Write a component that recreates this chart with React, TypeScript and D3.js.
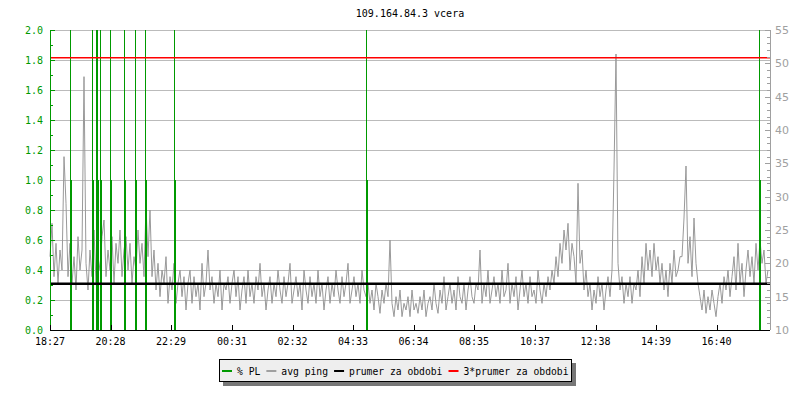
import React from 'react';
import * as d3 from 'd3';

const TITLE = '109.164.84.3 vcera';
const PING_STEP_MIN = 4;
// avg ping (ms, right axis) every 4 minutes starting 18:27
const pingValues = [
  21, 26, 18, 23, 17, 22, 19, 36, 29, 18,
  23, 17, 21, 16, 24, 19, 22, 48, 20, 16,
  22, 18, 25, 17, 21, 19, 24, 26.5, 18, 22,
  19, 24, 17, 23, 20, 25, 18, 22, 24, 19,
  23, 17, 21, 19, 25, 20, 23, 18, 28.7, 21,
  28, 18, 22, 16, 20, 15, 19, 17, 21, 14,
  18, 16, 20, 14, 17, 19, 15, 18, 13, 17,
  19, 14, 18, 15, 17, 13, 20, 15, 17, 22,
  16, 18, 14, 17, 15, 19, 13, 17, 16, 18,
  14, 17, 19, 15, 18, 13, 16, 18, 14, 19,
  15, 17, 14, 18, 16, 20, 15, 17, 13, 16,
  18, 14, 17, 15, 19, 16, 14, 18, 15, 17,
  20, 14, 16, 18, 15, 17, 13, 19, 16, 14,
  18, 15, 17, 14, 19, 15, 17, 13, 16, 18,
  14, 17, 15, 19, 16, 14, 18, 15, 17, 20,
  14, 16, 18, 15, 17, 14, 19, 16, 15, 17,
  14, 16, 13, 17, 15, 12.5, 16, 14, 17, 15,
  23.5, 14, 12, 15, 13, 16, 12, 14, 13, 15,
  12, 16, 13, 14, 12.5, 15, 13, 16, 12, 14,
  15, 13, 17, 14, 12.5, 16, 14, 18, 13, 15,
  17, 14, 16, 13, 18, 15, 14, 17, 13, 16,
  18, 15, 14, 17, 16, 22, 14, 17, 15, 19,
  14, 16, 18, 15, 17, 14, 19, 15, 16, 20,
  14, 17, 15, 18, 13, 16, 19, 15, 17, 14,
  18, 15, 16, 14, 19, 16, 14, 17, 15, 18,
  16, 19, 17, 21, 18, 23, 20, 25, 22, 26,
  19, 23, 21, 17, 32, 20, 22, 16, 19, 15,
  17, 13, 16, 14, 18, 15, 17, 13, 16, 18,
  15, 19, 34, 51.4, 20, 16, 18, 14, 17, 15,
  18, 14, 17, 16, 19, 15, 21, 17, 23, 19,
  22, 18, 23, 19, 21, 17, 20, 16, 19, 15,
  20, 17, 22, 18, 19, 21, 21, 26.8, 34.6, 20,
  24, 18, 26.8, 20, 17, 15, 13, 16, 12.5, 15,
  13, 16, 14, 12, 15, 17, 14, 18, 16, 19,
  15, 18, 21, 16, 23, 17, 20, 15, 19, 22,
  18, 21, 17, 23, 19, 23.5, 20, 22, 17, 19,
];
// packet loss events (minutes after 18:27, % PL on left axis)
const plTimes = [40, 42, 84, 86, 92, 94, 96, 100, 102, 120, 122, 148, 150, 170, 172, 190, 192, 248, 250, 632, 634, 1418, 1420];
const plValues = [2, 1, 2, 1, 2, 2, 1, 2, 1, 2, 1, 2, 1, 2, 1, 2, 1, 2, 1, 2, 1, 2, 1];
const avgPing = 16.95;
const tripleAvg = 3 * avgPing;

const xTickMinutes = [0, 121, 242, 364, 485, 606, 727, 848, 970, 1091, 1212, 1333];
const xTickLabels = ['18:27', '20:28', '22:29', '00:31', '02:32', '04:33', '06:34', '08:35', '10:37', '12:38', '14:39', '16:40'];
const leftTicks = [0, 0.2, 0.4, 0.6, 0.8, 1.0, 1.2, 1.4, 1.6, 1.8, 2.0];
const rightTicks = [10, 15, 20, 25, 30, 35, 40, 45, 50, 55];
const legendLabels = ['% PL', 'avg ping', 'prumer za obdobi', '3*prumer za obdobi'];
const legendColors = ['#009900', '#a0a0a0', '#000000', '#ff0000'];

const GREEN = '#009900';
const MONO = '"DejaVu Sans Mono", monospace';

export default function App() {
  const L = 50, R = 770, T = 30, B = 330;
  const x = d3.scaleLinear().domain([0, 1440]).range([L, R]);
  const yL = d3.scaleLinear().domain([0, 2]).range([B, T]);
  const yR = d3.scaleLinear().domain([10, 55]).range([B, T]);

  const line = d3.line<number>()
    .x((_, i) => x(i * PING_STEP_MIN))
    .y((d) => yR(d))
    .curve(d3.curveLinear);

  const minorLeft = d3.range(0, 2.0001, 0.1);
  const minorRight = d3.range(10, 55.001, 1);

  const legendFont = 9.7;
  const charW = 0.602 * legendFont;
  let cx = 222;
  const legendItems = legendLabels.map((lab, i) => {
    const item = { lab, color: legendColors[i], sx: cx, tx: cx + 15 };
    cx = cx + 15 + lab.length * charW + 6;
    return item;
  });

  return (
    <svg width={800} height={400} style={{ position: 'absolute', left: 0, top: 0, background: '#fff' }}>
      <rect x={0} y={0} width={800} height={400} fill="#fff" />
      <text x={(L + R) / 2} y={17} textAnchor="middle" fontFamily={MONO} fontSize={10} fill="#000">{TITLE}</text>

      {leftTicks.filter((t) => t > 0).map((t) => (
        <line key={'g' + t} x1={L} x2={R} y1={Math.round(yL(t)) + 0.5} y2={Math.round(yL(t)) + 0.5} stroke="#bbbbbb" strokeWidth={1} />
      ))}

      <path d={line(pingValues) || ''} fill="none" stroke="#999999" strokeWidth={1} />

      {plTimes.map((t, i) => {
        const v = Math.min(plValues[i], 2);
        const xx = Math.round(x(t));
        return <rect key={'pl' + i} x={xx} y={yL(v)} width={1} height={B - yL(v)} fill={GREEN} />;
      })}

      <line x1={L} x2={R} y1={yR(tripleAvg)} y2={yR(tripleAvg)} stroke="#ff0000" strokeWidth={1.5} />
      <line x1={L} x2={R} y1={yR(avgPing)} y2={yR(avgPing)} stroke="#000" strokeWidth={2.5} />

      <line x1={L + 0.5} x2={L + 0.5} y1={T} y2={B} stroke={GREEN} strokeWidth={1} />
      {minorLeft.map((t, i) => (
        <line key={'lm' + i} x1={L} x2={L + (i % 2 === 0 ? 5 : 3)} y1={Math.round(yL(t)) + 0.5} y2={Math.round(yL(t)) + 0.5} stroke={GREEN} />
      ))}
      {leftTicks.map((t) => (
        <text key={'lt' + t} x={43} y={yL(t) + 3.5} textAnchor="end" fontFamily={MONO} fontSize={10} fill={GREEN}>{t.toFixed(1)}</text>
      ))}

      <line x1={R + 0.5} x2={R + 0.5} y1={T} y2={B} stroke="#a0a0a0" strokeWidth={1} />
      {minorRight.map((t, i) => (
        <line key={'rm' + i} x1={R - (t % 5 === 0 ? 5 : 3)} x2={R} y1={Math.round(yR(t)) + 0.5} y2={Math.round(yR(t)) + 0.5} stroke="#a0a0a0" />
      ))}
      {rightTicks.map((t) => (
        <text key={'rt' + t} x={775} y={yR(t) + 4} textAnchor="start" fontFamily='"DejaVu Sans", sans-serif' fontSize={11} fill="#a0a0a0">{t}</text>
      ))}

      <line x1={L} x2={R} y1={B + 0.5} y2={B + 0.5} stroke="#000" strokeWidth={1} />
      {xTickMinutes.map((m, i) => (
        <g key={'xt' + i}>
          <line x1={Math.round(x(m)) + 0.5} x2={Math.round(x(m)) + 0.5} y1={B - 5} y2={B} stroke="#000" />
          <text x={x(m)} y={345} textAnchor="middle" fontFamily={MONO} fontSize={10} fill="#000">{xTickLabels[i]}</text>
        </g>
      ))}

      <rect x={223} y={363} width={353} height={23} fill="#777" />
      <rect x={219.5} y={359.5} width={352} height={22} fill="#eeeeee" stroke="#000" strokeWidth={1} />
      {legendItems.map((it, i) => (
        <g key={'lg' + i}>
          <line x1={it.sx} x2={it.sx + 10} y1={371} y2={371} stroke={it.color} strokeWidth={2} />
          <text x={it.tx} y={374.5} fontFamily={MONO} fontSize={legendFont} fill="#000">{it.lab}</text>
        </g>
      ))}
    </svg>
  );
}
